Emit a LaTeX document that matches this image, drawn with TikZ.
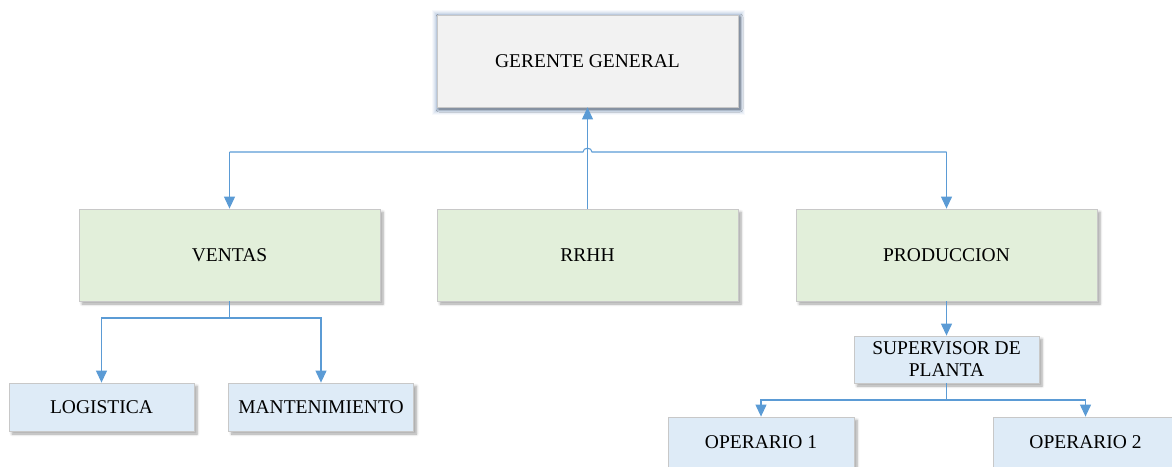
\documentclass[tikz,border=0pt]{standalone}
\usepackage{fontspec}
\setmainfont{Liberation Serif}
\usetikzlibrary{arrows.meta,shadows.blur}
\definecolor{linkblue}{HTML}{5B9BD5}
\definecolor{boxedge}{HTML}{C8C8C8}
\definecolor{topfill}{HTML}{F2F2F2}
\definecolor{deptfill}{HTML}{E2EFDA}
\definecolor{unitfill}{HTML}{DEEBF7}
\definecolor{glow}{HTML}{9BB3D3}
\begin{document}
\begin{tikzpicture}[x=1pt,y=-1pt,
  font=\fontsize{19.5}{22}\selectfont,
  orgbox/.style={draw=boxedge, line width=0.8pt, inner sep=0pt, align=center,
    text=black,
    blur shadow={shadow xshift=3pt, shadow yshift=-3pt, shadow blur radius=2.5pt,
      shadow opacity=35, shadow blur steps=6}},
  bigbox/.style={orgbox, minimum width=301pt, minimum height=92pt},
  smallbox/.style={orgbox, minimum width=185pt, minimum height=48pt, fill=unitfill},
  link/.style={draw=linkblue, line width=1.1pt},
  arr/.style={link, -{Triangle[width=11pt,length=12pt]}}]
\useasboundingbox (0,0) rectangle (1172,466);

% soft blue glow around the top box
\foreach \g/\o in {6/0.08,5/0.12,4/0.16,3/0.2,2/0.25,1/0.3}{
  \fill[glow, opacity=\o] (437-\g+1,15-\g+1) rectangle (738+\g+1,107+\g+1.5);
}
\node[bigbox, fill=topfill, blur shadow={shadow xshift=2pt, shadow yshift=-2pt,
  shadow blur radius=3pt, shadow opacity=25}] (ger) at (587.5,61) {GERENTE GENERAL};

% departments
\node[bigbox, fill=deptfill] (ventas) at (229.5,255) {VENTAS};
\node[bigbox, fill=deptfill] (rrhh)   at (587.5,255) {RRHH};
\node[bigbox, fill=deptfill] (prod)   at (946.5,255) {PRODUCCION};

% units
\node[smallbox] (logi) at (101.5,407) {LOGISTICA};
\node[smallbox] (mant) at (321,407) {MANTENIMIENTO};
\node[smallbox, minimum height=47pt] (super) at (946.5,359.5) {SUPERVISOR DE\\PLANTA};
\node[smallbox, minimum height=50pt, minimum width=186pt] (op1) at (761,442) {OPERARIO 1};
\node[smallbox, minimum height=50pt] (op2) at (1085.5,442) {OPERARIO 2};

% top level connectors
\coordinate (busL) at (229.5,152);
\coordinate (busR) at (946.5,152);
\draw[arr] (rrhh.north) -- (ger.south);
\draw[link] (busL) -- (583,152) .. controls (583,147) and (592,147) .. (592,152) -- (busR);
\draw[arr] (busL) -- (ventas.north);
\draw[arr] (busR) -- (prod.north);

% VENTAS branch
\coordinate (vj) at (229.5,318);
\draw[link] (ventas.south) -- (vj);
\draw[arr] (vj) -| (logi.north);
\draw[arr] (vj) -| (mant.north);

% PRODUCCION branch
\draw[arr] (prod.south) -- (super.north);
\coordinate (sj) at (946.5,400);
\draw[link] (super.south) -- (sj);
\draw[arr] (sj) -| (op1.north);
\draw[arr] (sj) -| (op2.north);
\end{tikzpicture}
\end{document}
